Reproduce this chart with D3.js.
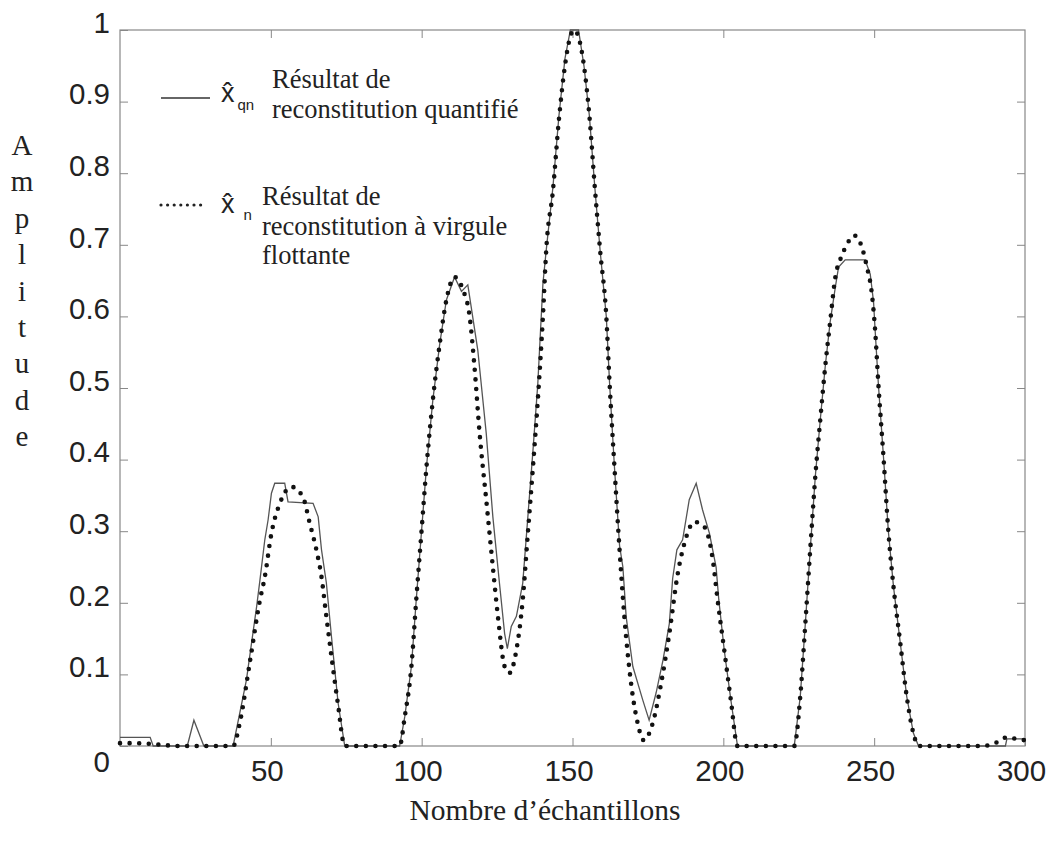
<!DOCTYPE html>
<html>
<head>
<meta charset="utf-8">
<script src="https://cdn.jsdelivr.net/npm/d3@7"></script>
<style>
  body { margin: 0; background: #fff; }
  svg { display: block; }
</style>
</head>
<body>
<div id="chart"></div>
<script>
// floating point reconstruction (dotted)
const xnX = [0, 5, 10, 20, 30, 37.5, 39.7, 43, 46.4, 48, 50.2, 53, 56.8, 60.6, 62.9, 65.1, 66.8, 68.4, 70.1, 72.2, 74.5,
  80, 92.7, 94.4, 96.6, 98.2, 99.9, 101.6, 103.7, 106, 108.2, 110.9, 113.7, 115.9, 117.5, 119.2, 121.4, 123.6, 125.3,
  127.5, 129.1, 131.4, 133.5, 135.2, 136.9, 138.5, 140.2, 141.3, 143.5, 145.5, 147.5, 149.2, 150.5, 152, 153.8, 155.6,
  157.4, 159.2, 161.2, 162.3, 163.9, 165.6, 167.2, 169.4, 171.6, 173.6, 176.6, 179.4, 182.1, 184.9, 187.1, 190.4, 193.7,
  196.5, 198.1, 200.3, 202.5, 204.7, 215, 223.5, 225.5, 227.2, 228.8, 230.5, 232.1, 233.8, 235.4, 237.1, 239.3, 240.9,
  243.4, 245.9, 247.6, 249.2, 250.3, 251.4, 253.1, 254.7, 256.4, 258.6, 260.8, 263, 264.7, 275, 286, 290.6, 293.9, 297, 300];
const xnY = [0.004, 0.004, 0.003, 0, 0, 0, 0.032, 0.116, 0.204, 0.236, 0.297, 0.339, 0.362, 0.348, 0.311, 0.274, 0.236, 0.181, 0.125, 0.06, 0,
  0, 0, 0.041, 0.111, 0.204, 0.297, 0.39, 0.483, 0.562, 0.623, 0.655, 0.637, 0.6, 0.53, 0.437, 0.344, 0.25, 0.18,
  0.111, 0.102, 0.134, 0.204, 0.297, 0.39, 0.483, 0.6, 0.693, 0.775, 0.875, 0.95, 0.99, 1.0, 0.99, 0.95, 0.88,
  0.78, 0.69, 0.6, 0.506, 0.39, 0.274, 0.18, 0.088, 0.032, 0.008, 0.032, 0.088, 0.157, 0.241, 0.283, 0.313, 0.306,
  0.26, 0.204, 0.134, 0.064, 0, 0, 0, 0.069, 0.172, 0.274, 0.377, 0.454, 0.531, 0.592, 0.654, 0.685, 0.7,
  0.713, 0.697, 0.669, 0.633, 0.582, 0.505, 0.403, 0.3, 0.223, 0.146, 0.069, 0.018, 0, 0, 0, 0.005, 0.012, 0.01, 0.008];

// quantized reconstruction (solid)
const xqnX = [0, 10, 11, 22.3, 24.5, 27.8, 37.5, 41.9, 45.3, 46.4, 48, 49.1, 50.2, 51.3, 54.6, 55.7, 64, 65.7, 66.8, 68.4,
  70.1, 72.3, 74.5, 92.7, 94.4, 96.6, 98.2, 99.9, 101.6, 103.7, 106, 108.2, 110.9, 113.2, 115.3, 118.6, 121.4, 123.6,
  125.8, 127.5, 128.4, 129.7, 131.4, 133.5, 135.2, 136.9, 138.5, 140.2, 141.3, 143.5, 145.5, 147.5, 149.3, 152, 153.8,
  155.6, 157.4, 159.2, 161.2, 162.3, 163.9, 165.6, 166.7, 167.8, 170, 173.3, 175.4, 177.7, 180, 182.1, 183.2, 184.6,
  186.5, 188.7, 191, 193.1, 195.4, 197.6, 198.5, 200.3, 202.5, 204.7, 223.5, 225.5, 227.2, 228.8, 230.5, 232.1, 233.8,
  235.4, 237.1, 238.2, 240.4, 247, 248.7, 249.8, 250.3, 251.4, 253.1, 254.7, 256.4, 258.6, 260.8, 263, 264.7, 293.5,
  294, 300];
const xqnY = [0.012, 0.012, 0, 0, 0.036, 0, 0, 0.092, 0.195, 0.232, 0.288, 0.316, 0.353, 0.367, 0.367, 0.341, 0.339, 0.32, 0.274, 0.228,
  0.153, 0.06, 0, 0, 0.041, 0.111, 0.204, 0.297, 0.39, 0.483, 0.562, 0.623, 0.655, 0.635, 0.644, 0.553, 0.437, 0.32,
  0.227, 0.157, 0.136, 0.167, 0.181, 0.227, 0.32, 0.413, 0.506, 0.646, 0.693, 0.78, 0.88, 0.96, 1.0, 1.0, 0.95,
  0.88, 0.78, 0.69, 0.6, 0.506, 0.39, 0.28, 0.25, 0.18, 0.111, 0.064, 0.036, 0.074, 0.12, 0.171, 0.234, 0.274,
  0.288, 0.344, 0.367, 0.33, 0.297, 0.25, 0.204, 0.134, 0.064, 0, 0, 0.069, 0.172, 0.274, 0.377, 0.454, 0.531,
  0.592, 0.64, 0.669, 0.679, 0.679, 0.659, 0.62, 0.582, 0.505, 0.403, 0.3, 0.223, 0.146, 0.069, 0.018, 0, 0,
  0.01, 0.01];

const xTicks = [50, 100, 150, 200, 250, 300];
const yTicks = [0, 0.1, 0.2, 0.3, 0.4, 0.5, 0.6, 0.7, 0.8, 0.9, 1];
const yTitle = "Amplitude";
const xTitle = "Nombre d\u2019\u00e9chantillons";

const width = 1054;
const height = 848;
const margin = { top: 30, right: 29, bottom: 102, left: 120 };
const w = width - margin.left - margin.right;
const h = height - margin.top - margin.bottom;

const xScale = d3.scaleLinear().domain([0, 300]).range([0, w]);
const yScale = d3.scaleLinear().domain([0, 1]).range([h, 0]);

const svg = d3.select('#chart')
  .append('svg')
  .attr('width', width)
  .attr('height', height);
const g = svg.append('g')
  .attr('transform', 'translate(' + margin.left + ',' + margin.top + ')');

// axes, ticks pointing inward
const yAxis = g.append('g')
  .call(d3.axisLeft(yScale).tickValues(yTicks).tickSize(-8).tickPadding(10)
    .tickFormat(d => d === 0 ? '0' : d3.format('.1~f')(d)));
yAxis.selectAll('text')
  .attr('dy', d => d === 0 ? '0.88em' : '0.08em')
  .style('font-family', '"Liberation Sans", Arial, sans-serif')
  .style('font-size', '29.5px')
  .style('fill', '#222');

const xAxis = g.append('g')
  .attr('transform', 'translate(0,' + h + ')')
  .call(d3.axisBottom(xScale).tickValues(xTicks).tickSize(-8).tickPadding(14));
xAxis.selectAll('text')
  .attr('dx', '-4')
  .style('font-family', '"Liberation Sans", Arial, sans-serif')
  .style('font-size', '29.5px')
  .style('fill', '#222');

g.append('g')
  .call(d3.axisTop(xScale).tickValues(xTicks.slice(0, 5)).tickSize(-8).tickFormat(''));
g.append('g')
  .attr('transform', 'translate(' + w + ',0)')
  .call(d3.axisRight(yScale).tickValues(yTicks.slice(1, 10)).tickSize(-8).tickFormat(''));

g.selectAll('.domain').remove();
g.selectAll('.tick line').attr('stroke', '#888').attr('stroke-width', 1);

g.append('rect')
  .attr('width', w)
  .attr('height', h)
  .attr('fill', 'none')
  .attr('stroke', '#888')
  .attr('stroke-width', 1.2);

// curves
const lineQ = d3.line()
  .x(i => xScale(xqnX[i]))
  .y(i => yScale(xqnY[i]));
const lineN = d3.line()
  .x(i => xScale(xnX[i]))
  .y(i => yScale(xnY[i]))
  .curve(d3.curveMonotoneX);

g.append('path')
  .datum(d3.range(xqnX.length))
  .attr('d', lineQ)
  .attr('fill', 'none')
  .attr('stroke', '#555')
  .attr('stroke-width', 1.3);

g.append('path')
  .datum(d3.range(xnX.length))
  .attr('d', lineN)
  .attr('fill', 'none')
  .attr('stroke', '#111')
  .attr('stroke-width', 4.6)
  .attr('stroke-linecap', 'round')
  .attr('stroke-dasharray', '0 9.6');

// legend
const serif = '"Liberation Serif", "Times New Roman", serif';
const sans = '"Liberation Sans", Arial, sans-serif';
const legend = svg.append('g');

legend.append('line')
  .attr('x1', 161).attr('x2', 210).attr('y1', 98).attr('y2', 98)
  .attr('stroke', '#333').attr('stroke-width', 1.4);
const sym1 = legend.append('text').attr('x', 221).attr('y', 102)
  .style('font-family', sans).style('font-size', '27px').style('fill', '#222');
sym1.append('tspan').text('x\u0302');
sym1.append('tspan').attr('dx', 3).attr('dy', 8).style('font-size', '15px').text('qn');
legend.append('text').attr('x', 272).attr('y', 88)
  .style('font-family', serif).style('font-size', '26.5px').style('fill', '#222').text('R\u00e9sultat de');
legend.append('text').attr('x', 272).attr('y', 118)
  .style('font-family', serif).style('font-size', '26.5px').style('fill', '#222').text('reconstitution quantifi\u00e9');

legend.append('line')
  .attr('x1', 161).attr('x2', 207).attr('y1', 205).attr('y2', 205)
  .attr('stroke', '#222').attr('stroke-width', 3.2)
  .attr('stroke-linecap', 'round').attr('stroke-dasharray', '0 6.6');
const sym2 = legend.append('text').attr('x', 221).attr('y', 213)
  .style('font-family', sans).style('font-size', '27px').style('fill', '#222');
sym2.append('tspan').text('x\u0302');
sym2.append('tspan').attr('dx', 9).attr('dy', 7).style('font-size', '15px').text('n');
legend.append('text').attr('x', 262).attr('y', 205)
  .style('font-family', serif).style('font-size', '26.5px').style('fill', '#222').text('R\u00e9sultat de');
legend.append('text').attr('x', 262).attr('y', 235)
  .style('font-family', serif).style('font-size', '26.5px').style('fill', '#222').text('reconstitution \u00e0 virgule');
legend.append('text').attr('x', 262).attr('y', 264)
  .style('font-family', serif).style('font-size', '26.5px').style('fill', '#222').text('flottante');

// axis titles
svg.append('g').selectAll('text')
  .data(yTitle.split(''))
  .join('text')
  .attr('x', 22)
  .attr('y', (d, i) => 155 + i * 36.4)
  .attr('text-anchor', 'middle')
  .style('font-family', serif)
  .style('font-size', '29px')
  .style('fill', '#222')
  .text(d => d);

svg.append('text')
  .attr('x', 545)
  .attr('y', 820)
  .attr('text-anchor', 'middle')
  .style('font-family', serif)
  .style('font-size', '29.5px')
  .style('fill', '#222')
  .text(xTitle);
</script>
</body>
</html>
